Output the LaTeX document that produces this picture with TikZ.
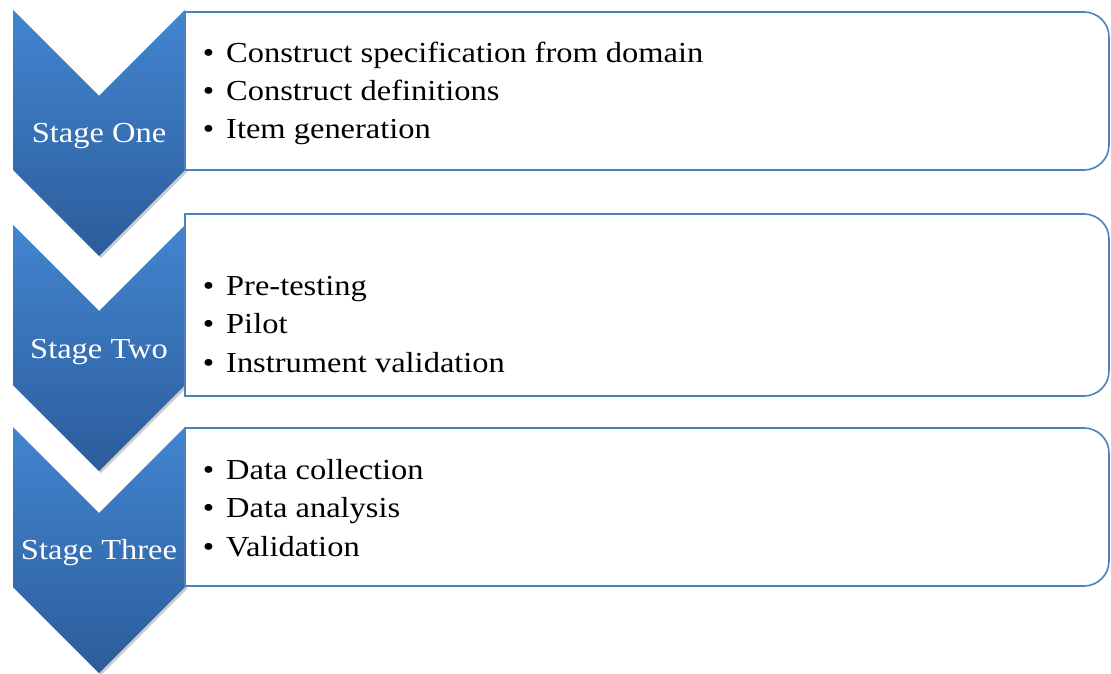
\documentclass[tikz,border=0pt]{standalone}
\usepackage{fontspec}
\setmainfont{Liberation Serif}[FakeStretch=1.12]
\usetikzlibrary{shadows}
\definecolor{chevtop}{RGB}{66,133,208}
\definecolor{chevbot}{RGB}{44,92,155}
\definecolor{boxblue}{RGB}{79,129,189}
\tikzset{
  chev/.style={top color=chevtop, bottom color=chevbot, draw=none,
    drop shadow={shadow xshift=2pt, shadow yshift=-2pt, opacity=0.2, fill=black}},
  listbox/.style={draw=boxblue, line width=1.6pt, fill=white},
  stagetxt/.style={text=white, font=\fontsize{29}{34}\selectfont, anchor=base, inner sep=0pt},
  itemtxt/.style={text=black, font=\fontsize{29}{34}\selectfont, anchor=base west, inner sep=0pt},
}
\newcommand{\itm}{\makebox[0pt][r]{\textbullet\hspace{12pt}}}
\begin{document}
\begin{tikzpicture}[x=1pt,y=1pt]
\useasboundingbox (0,0) rectangle (1111,673);
% chevrons
\foreach \T in {663,448,246}{
  \path[chev] (13,\T) -- (99,\T-86) -- (185,\T) -- (185,\T-160) -- (99,\T-246) -- (13,\T-160) -- cycle;
}
% boxes
\foreach \top/\bot in {661/503,459/277,245/87}{
  \draw[listbox] (185,\bot) -- (185,\top) -- (1084,\top) arc[start angle=90,end angle=0,radius=25]
     -- (1109,\bot+25) arc[start angle=0,end angle=-90,radius=25] -- cycle;
}
% stage labels
\node[stagetxt] (s1) at (99,530) {Stage One};
\node[stagetxt] (s2) at (99,315) {Stage Two};
\node[stagetxt] (s3) at (99,114) {Stage Three};
% items
\node[itemtxt] (a1) at (226,610) {\itm Construct specification from domain};
\node[itemtxt] (a2) at (226,572) {\itm Construct definitions};
\node[itemtxt] (a3) at (226,534) {\itm Item generation};
\node[itemtxt] (b1) at (226,377) {\itm Pre-testing};
\node[itemtxt] (b2) at (226,339) {\itm Pilot};
\node[itemtxt] (b3) at (226,301) {\itm Instrument validation};
\node[itemtxt] (c1) at (226,194) {\itm Data collection};
\node[itemtxt] (c2) at (226,156) {\itm Data analysis};
\node[itemtxt] (c3) at (226,117) {\itm Validation};
\end{tikzpicture}
\end{document}
